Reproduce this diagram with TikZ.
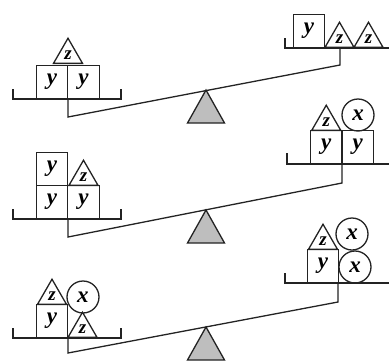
\documentclass[tikz,border=0pt]{standalone}
\usepackage{fontspec}
\setmainfont{Liberation Serif}
\usepackage{tikz}
\usetikzlibrary{shapes.geometric,positioning,calc}
\definecolor{fulcrumgray}{RGB}{190,190,190}
\definecolor{ink}{RGB}{35,35,35}
\newcommand{\zlow}{\raisebox{-3pt}{z}}

\begin{document}
\begin{tikzpicture}[x=1pt, y=-1pt, line width=1.3pt, draw=ink,
    ybox/.style={rectangle, draw=ink, minimum width=31.5pt, minimum height=33pt,
      inner sep=0pt, anchor=south, font=\fontsize{23}{23}\selectfont\bfseries\itshape},
    ztri/.style={regular polygon, regular polygon sides=3, draw=ink,
      minimum size=33.5pt, inner sep=0pt, anchor=south,
      font=\fontsize{19}{19}\selectfont\bfseries\itshape},
    xball/.style={circle, draw=ink, minimum size=32pt, inner sep=0pt,
      font=\fontsize{23}{23}\selectfont\bfseries\itshape},
    fulcrum/.style={draw=ink, fill=fulcrumgray}]

  \useasboundingbox (0,0) rectangle (389,360);

  % first balance
  \draw (13,89) -- (13,99) -- (121,99) -- (121,89);
  \draw (285,38) -- (285,48) -- (392,48);
  \node[ybox] (y11) at (52,99) {y};
  \node[ybox] (y12) at (83.5,99) {y};
  \node[ztri] (z11) at (68,64) {\zlow};
  \node[ybox] (y13) at (309,48) {y};
  \node[ztri] (z12) at (339.5,48) {\zlow};
  \node[ztri] (z13) at (368.5,48) {\zlow};
  \coordinate (a1) at (68,117);
  \coordinate (b1) at (340,65);
  \coordinate (p1) at (206,90);
  \draw[fulcrum] (p1) -- ++(-18.5,33) -- ++(37,0) -- cycle;
  \draw (68,99) -- (a1) -- (b1) -- (340,48);

  % second balance
  \draw (13,209) -- (13,219) -- (121,219) -- (121,209);
  \draw (287,153) -- (287,164) -- (392,164);
  \node[ybox] (y21) at (52,219) {y};
  \node[ybox] (y22) at (83.5,219) {y};
  \node[ybox] (y23) at (52,186) {y};
  \node[ztri] (z21) at (83.5,186) {\zlow};
  \node[ybox] (y24) at (326.25,164) {y};
  \node[ybox] (y25) at (357.75,164) {y};
  \node[ztri] (z22) at (326.25,131) {\zlow};
  \node[xball] (x21) at (358,115) {x};
  \coordinate (a2) at (68,237);
  \coordinate (b2) at (342,183);
  \coordinate (p2) at (206,210);
  \draw[fulcrum] (p2) -- ++(-18.5,33) -- ++(37,0) -- cycle;
  \draw (68,219) -- (a2) -- (b2) -- (342,164);

  % third balance
  \draw (13,328) -- (13,338) -- (121,338) -- (121,328);
  \draw (285,273) -- (285,283) -- (392,283);
  \node[ybox] (y31) at (52,338) {y};
  \node[ztri] (z31) at (52,305) {\zlow};
  \node[ztri] (z32) at (82.5,338) {\zlow};
  \node[xball] (x31) at (83,297) {x};
  \node[ybox] (y32) at (323,283) {y};
  \node[ztri] (z33) at (323,250) {\zlow};
  \node[xball] (x32) at (355,267) {x};
  \node[xball] (x33) at (352,234) {x};
  \coordinate (a3) at (68,353);
  \coordinate (b3) at (338,302);
  \coordinate (p3) at (206,327);
  \draw[fulcrum] (p3) -- ++(-18.5,33) -- ++(37,0) -- cycle;
  \draw (68,338) -- (a3) -- (b3) -- (338,283);
\end{tikzpicture}
\end{document}
